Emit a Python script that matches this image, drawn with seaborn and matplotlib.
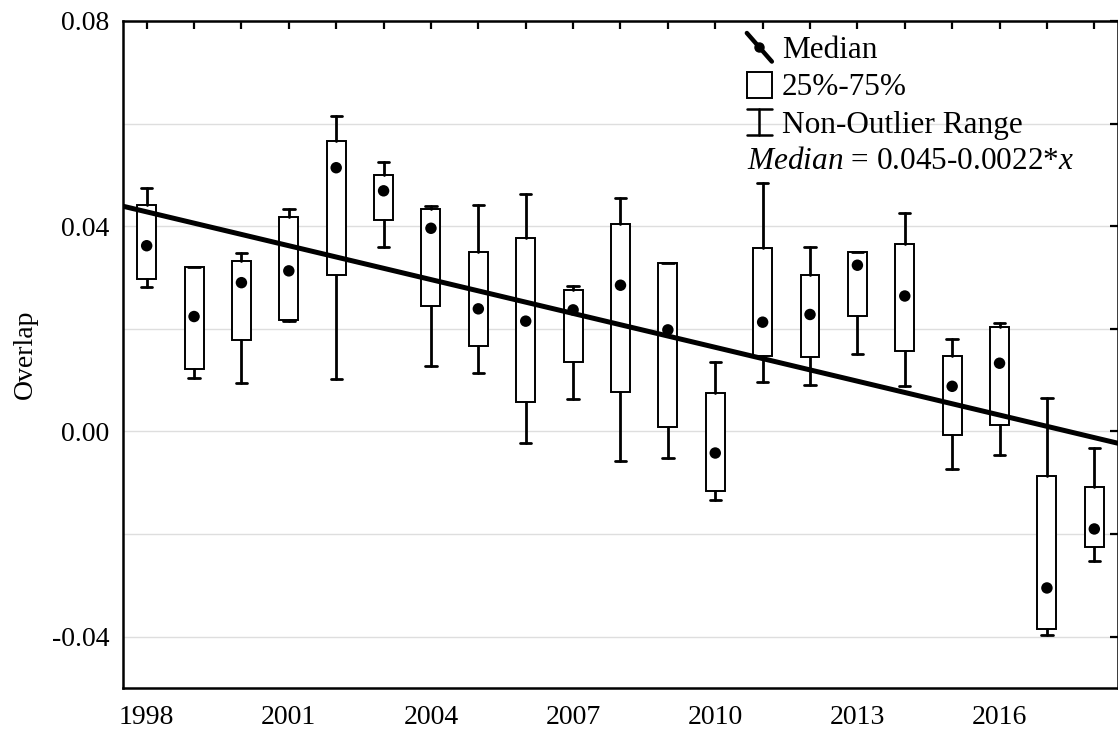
import numpy as np
import pandas as pd
import matplotlib
matplotlib.use("Agg")
import matplotlib.pyplot as plt
import matplotlib.patches as mpatches
from matplotlib.lines import Line2D
from matplotlib.legend_handler import HandlerBase
from matplotlib.ticker import MultipleLocator, FuncFormatter
import seaborn as sns

# Yearly overlap summaries
years = [1998, 1999, 2000, 2001, 2002, 2003, 2004, 2005, 2006, 2007, 2008,
         2009, 2010, 2011, 2012, 2013, 2014, 2015, 2016, 2017, 2018]
whisker_high = [0.0474, 0.0320, 0.0347, 0.0433, 0.0615, 0.0526, 0.0439, 0.0441,
                0.0463, 0.0284, 0.0455, 0.0329, 0.0136, 0.0484, 0.0359, 0.0349,
                0.0426, 0.0180, 0.0211, 0.0066, -0.0033]
q3 = [0.0442, 0.0320, 0.0333, 0.0418, 0.0567, 0.0499, 0.0434, 0.0349, 0.0377,
      0.0275, 0.0405, 0.0329, 0.0075, 0.0357, 0.0305, 0.0349, 0.0365, 0.0148,
      0.0204, -0.0087, -0.0108]
median = [0.0362, 0.0224, 0.0290, 0.0313, 0.0514, 0.0469, 0.0396, 0.0239,
          0.0215, 0.0237, 0.0285, 0.0198, -0.0042, 0.0213, 0.0228, 0.0324,
          0.0264, 0.0088, 0.0133, -0.0305, -0.0190]
q1 = [0.0298, 0.0121, 0.0179, 0.0217, 0.0305, 0.0412, 0.0244, 0.0167, 0.0058,
      0.0135, 0.0077, 0.0009, -0.0116, 0.0148, 0.0146, 0.0225, 0.0157, -0.0006,
      0.0012, -0.0385, -0.0225]
whisker_low = [0.0281, 0.0104, 0.0094, 0.0216, 0.0103, 0.0359, 0.0127, 0.0113,
               -0.0023, 0.0064, -0.0057, -0.0051, -0.0134, 0.0097, 0.0091,
               0.0150, 0.0089, -0.0074, -0.0045, -0.0396, -0.0252]

# Linear trend of the medians: Median = intercept + slope * x, x = 1 for the first year
trend_intercept = 0.045
trend_slope = -0.0022

legend_labels = ["Median", "25%-75%", "Non-Outlier Range"]
y_label = "Overlap"

sns.set_theme(style="white")
plt.rcParams["font.family"] = ["Liberation Serif", "DejaVu Serif"]
plt.rcParams["mathtext.fontset"] = "custom"
plt.rcParams["mathtext.rm"] = "Liberation Serif"
plt.rcParams["mathtext.it"] = "Liberation Serif:italic"
for key in ("text.color", "axes.labelcolor", "xtick.color", "ytick.color",
            "xtick.labelcolor", "ytick.labelcolor"):
    plt.rcParams[key] = "black"

fig = plt.figure(figsize=(11.18, 7.31), dpi=100)
ax = fig.add_axes([0.1100, 0.0588, 0.8900, 0.9125])

ax.set_xlim(1997.5, 2018.5)
ax.set_ylim(-0.05, 0.08)

# Boxes and whiskers from the summary statistics
stats = [
    {"med": m, "q1": a, "q3": b, "whislo": lo, "whishi": hi, "fliers": []}
    for m, a, b, lo, hi in zip(median, q1, q3, whisker_low, whisker_high)
]
ax.bxp(
    stats, positions=years, widths=0.40, capwidths=0.24,
    showfliers=False, patch_artist=True, manage_ticks=False,
    boxprops=dict(facecolor="white", edgecolor="black", linewidth=1.4),
    whiskerprops=dict(color="black", linewidth=2.0),
    capprops=dict(color="black", linewidth=2.0),
    medianprops=dict(linewidth=0),
    zorder=2,
)

# Trend line across the whole axis
x_trend = np.array(ax.get_xlim())
y_trend = trend_intercept + trend_slope * (x_trend - (years[0] - 1))
sns.lineplot(x=x_trend, y=y_trend, color="black", linewidth=3.6, ax=ax,
             zorder=3)

# Median markers
df = pd.DataFrame({"year": years, "median": median})
sns.scatterplot(data=df, x="year", y="median", color="black", s=68,
                edgecolor="none", ax=ax, zorder=4, legend=False)

ax.set_xlim(1997.5, 2018.5)
ax.set_ylim(-0.05, 0.08)

# Axes, ticks and grid
ax.xaxis.set_major_locator(MultipleLocator(1))
ax.xaxis.set_major_formatter(FuncFormatter(
    lambda v, p: f"{int(round(v))}" if (int(round(v)) - years[0]) % 3 == 0 else ""))
ax.yaxis.set_major_locator(MultipleLocator(0.02))


def y_fmt(v, p):
    k = int(round(v / 0.02))
    if k % 2:
        return ""
    if abs(v) < 1e-9:
        return "0.00"
    return f"{v:.2f}"


ax.yaxis.set_major_formatter(FuncFormatter(y_fmt))
ax.tick_params(direction="in", top=True, right=True, length=6, width=1.6,
               color="black", labelcolor="black", labelsize=20)
ax.tick_params(axis="x", pad=12)
ax.tick_params(axis="y", pad=10)
ax.yaxis.grid(True, color="#dedede", linewidth=1.0)
ax.xaxis.grid(False)
ax.set_axisbelow(True)
for s in ax.spines.values():
    s.set_color("black")
    s.set_linewidth(1.8)

ax.set_xlabel("")
ax.set_ylabel(y_label, fontsize=20, color="black")
ax.yaxis.set_label_coords(-0.086, 0.5)


# Legend with hand-made keys
class MedianKey(HandlerBase):
    def create_artists(self, legend, orig_handle, xdescent, ydescent, width,
                       height, fontsize, trans):
        x0, x1 = -xdescent, -xdescent + width
        y0, y1 = -ydescent - 0.05 * height, -ydescent + 1.05 * height
        line = Line2D([x0, x1], [y1, y0], color="black", linewidth=3.2,
                      solid_capstyle="round", transform=trans)
        dot = Line2D([(x0 + x1) / 2], [(y0 + y1) / 2], marker="o",
                     markersize=6.5, color="black", linestyle="none",
                     transform=trans)
        return [line, dot]


class RangeKey(HandlerBase):
    def create_artists(self, legend, orig_handle, xdescent, ydescent, width,
                       height, fontsize, trans):
        x0, x1 = -xdescent, -xdescent + width
        y0, y1 = -ydescent, -ydescent + height
        xm = (x0 + x1) / 2
        stem = Line2D([xm, xm], [y0, y1], color="black", linewidth=1.8,
                      transform=trans)
        top = Line2D([x0, x1], [y1, y1], color="black", linewidth=1.8,
                     transform=trans)
        bottom = Line2D([x0, x1], [y0, y0], color="black", linewidth=1.8,
                        transform=trans)
        return [stem, top, bottom]


class MedianTag:
    pass


class RangeTag:
    pass


box_key = mpatches.Rectangle((0, 0), 1, 1, facecolor="white",
                             edgecolor="black", linewidth=1.4)
leg = ax.legend(
    [MedianTag(), box_key, RangeTag()], legend_labels,
    handler_map={MedianTag: MedianKey(), RangeTag: RangeKey()},
    loc="upper left", bbox_to_anchor=(0.627, 0.98), frameon=False,
    fontsize=22.5, handlelength=0.8, handleheight=0.9, handletextpad=0.32,
    labelspacing=0.21, borderpad=0.0, borderaxespad=0.0, labelcolor="black",
)

ax.text(0.627, 0.79, r"$\mathit{Median}$ = 0.045-0.0022*$\mathit{x}$",
        transform=ax.transAxes, fontsize=22.5, ha="left", va="center",
        color="black")

fig.savefig("out.png", dpi=100)
